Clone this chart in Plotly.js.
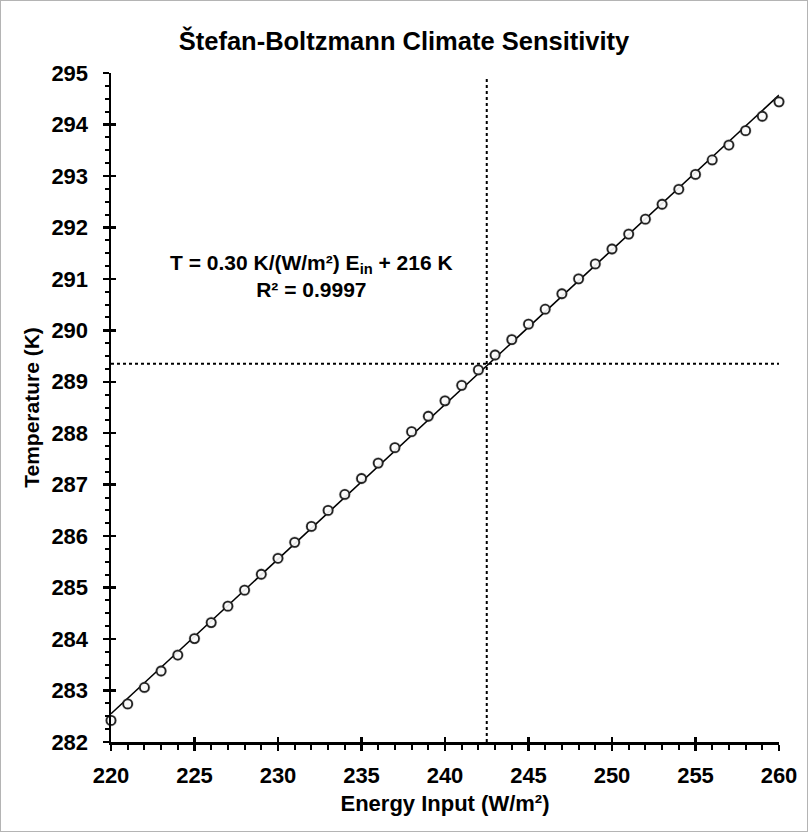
<!DOCTYPE html>
<html>
<head>
<meta charset="utf-8">
<script src="https://cdn.plot.ly/plotly-3.0.1.min.js"></script>
<style>
  html, body { margin: 0; padding: 0; background: #fff; }
  #frame { width: 808px; height: 832px; box-sizing: border-box; border: 1px solid #b4b4b4; background: #fff; }
  #chart { width: 806px; height: 830px; }
</style>
</head>
<body>
<div id="frame"><div id="chart"></div></div>
<script>
// Energy input (W/m²) and resulting temperature (K)
const energyInput = [220,221,222,223,224,225,226,227,228,229,230,231,232,233,234,235,236,237,238,239,240,
                     241,242,243,244,245,246,247,248,249,250,251,252,253,254,255,256,257,258,259,260];
const temperature = [282.42,282.74,283.06,283.38,283.69,284.01,284.32,284.64,284.95,285.26,285.57,
                     285.88,286.19,286.50,286.81,287.12,287.42,287.72,288.03,288.33,288.63,
                     288.93,289.23,289.52,289.82,290.12,290.41,290.71,291.00,291.29,291.58,
                     291.87,292.16,292.45,292.74,293.03,293.31,293.60,293.88,294.16,294.44];
const crossEnergy = 242.5;      // vertical dotted reference
const crossTemperature = 289.35; // horizontal dotted reference
const xTickVals = [220,225,230,235,240,245,250,255,260];
const yTickVals = [282,283,284,285,286,287,288,289,290,291,292,293,294,295];
const titleText = "Štefan-Boltzmann Climate Sensitivity";
const xTitle = "Energy Input (W/m²)";
const yTitle = "Temperature (K)";
const eqText = "T = 0.30 K/(W/m²) E<sub>in</sub> + 216 K<br>R² = 0.9997";

// least-squares fit from the data
const n = energyInput.length;
const mx = energyInput.reduce((a,b)=>a+b,0)/n;
const my = temperature.reduce((a,b)=>a+b,0)/n;
let sxy = 0, sxx = 0;
for (let i=0;i<n;i++){ sxy += (energyInput[i]-mx)*(temperature[i]-my); sxx += (energyInput[i]-mx)**2; }
const slope = sxy/sxx, intercept = my - slope*mx;
const fitX = [energyInput[0], energyInput[n-1]];
const fitY = fitX.map(x => slope*x + intercept);

const FONT = "Liberation Sans, Arial, Helvetica, sans-serif";
const bold = (size) => ({family: FONT, size: size, color: "#000", weight: "bold"});

const traces = [
  { x: fitX, y: fitY, mode: "lines", line: {color: "#000", width: 1.6}, hoverinfo: "skip", cliponaxis: false },
  { x: energyInput, y: temperature, mode: "markers", cliponaxis: false,
    marker: {symbol: "circle", size: 12, color: "rgba(0,0,0,0.2)", line: {width: 0}} },
  { x: energyInput, y: temperature, mode: "markers", cliponaxis: false,
    marker: {symbol: "circle", size: 9, color: "rgba(255,255,255,0.9)", line: {color: "#222", width: 1.8}} },
  // invisible trace on the secondary axes so inside major ticks render
  { x: fitX, y: fitY, xaxis: "x2", yaxis: "y2", mode: "lines", line: {width: 0}, hoverinfo: "skip", showlegend: false }
];

const layout = {
  width: 806, height: 830,
  margin: {l: 110, r: 28, t: 72, b: 89},
  paper_bgcolor: "#fff", plot_bgcolor: "#fff",
  showlegend: false,
  title: {text: titleText, font: bold(25.5), x: 0.5, xref: "container", xanchor: "center", y: 0.952, yref: "container", yanchor: "middle"},
  xaxis: {
    range: [220, 260], tickvals: xTickVals, ticks: "outside", ticklen: 6, tickwidth: 2.5, tickcolor: "#000",
    showline: true, linecolor: "#000", linewidth: 2.5, showgrid: false, zeroline: false,
    tickfont: bold(22), ticklabelstandoff: 6,
    minor: {dtick: 1, ticks: "outside", ticklen: 5, tickwidth: 2, tickcolor: "#000", showgrid: false},
    title: {text: xTitle, font: bold(22), standoff: 9}
  },
  yaxis: {
    range: [282, 295], tickvals: yTickVals, ticks: "outside", ticklen: 6, tickwidth: 2.5, tickcolor: "#000",
    showline: true, linecolor: "#000", linewidth: 2.5, showgrid: false, zeroline: false,
    tickfont: bold(22), ticklabelstandoff: 10,
    minor: {dtick: 0.25, ticks: "outside", ticklen: 4, tickwidth: 2, tickcolor: "#000", showgrid: false},
    title: {text: yTitle, font: bold(21), standoff: 6}
  },
  xaxis2: {
    overlaying: "x", range: [220, 260], tickvals: xTickVals, ticks: "inside", ticklen: 5, tickwidth: 2.5,
    tickcolor: "#000", showticklabels: false, showline: false, showgrid: false, zeroline: false, side: "bottom"
  },
  yaxis2: {
    overlaying: "y", range: [282, 295], tickvals: yTickVals, ticks: "inside", ticklen: 5, tickwidth: 2.5,
    tickcolor: "#000", showticklabels: false, showline: false, showgrid: false, zeroline: false, side: "left"
  },
  shapes: [
    {type: "line", xref: "x", yref: "y", x0: crossEnergy, x1: crossEnergy, y0: 282, y1: 294.93,
     line: {color: "#000", width: 2, dash: "dot"}, layer: "below"},
    {type: "line", xref: "x", yref: "y", x0: 220, x1: 260, y0: crossTemperature, y1: crossTemperature,
     line: {color: "#000", width: 2, dash: "dot"}, layer: "below"}
  ],
  annotations: [
    {text: eqText, xref: "x", yref: "y", x: 232.0, y: 291.06, showarrow: false, align: "center",
     xanchor: "center", yanchor: "middle", font: bold(21)}
  ]
};

Plotly.newPlot("chart", traces, layout, {displayModeBar: false, staticPlot: true});
</script>
</body>
</html>
